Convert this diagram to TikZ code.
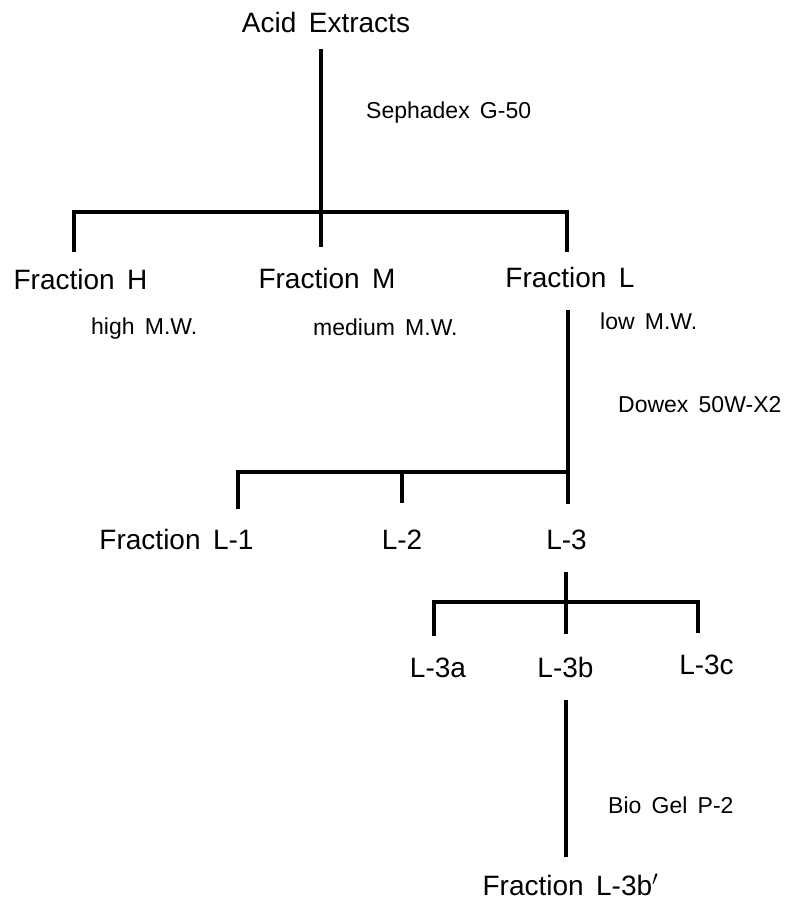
\documentclass[tikz,border=0pt]{standalone}
\usepackage{fontspec}
\setmainfont{Liberation Sans}[WordSpace=1.6]
\begin{document}
\begin{tikzpicture}[x=1pt,y=-1pt,
  big/.style={inner sep=0pt,anchor=base,font=\fontsize{28}{30}\selectfont},
  small/.style={inner sep=0pt,anchor=base west,font=\fontsize{23}{25}\selectfont},
  conn/.style={line width=3.2pt,line join=miter}]
\useasboundingbox (0,0) rectangle (795,903);
% main labels
\node[big] (acid) at (326,32) {Acid Extracts};
\node[big] (fh) at (80.5,289) {Fraction H};
\node[big] (fm) at (327,288) {Fraction M};
\node[big] (fl) at (570,287) {Fraction L};
\node[big] (l1) at (176.5,549) {Fraction L-1};
\node[big] (l2) at (402,549) {L-2};
\node[big] (l3) at (566.5,549) {L-3};
\node[big] (l3a) at (438,677) {L-3a};
\node[big] (l3b) at (565.5,677) {L-3b};
\node[big] (l3c) at (706.5,674) {L-3c};
\node[big,text depth=0pt] (l3bp) at (570.5,895) {Fraction L-3b$'$};
% annotations
\node[small] (seph) at (366,118) {Sephadex G-50};
\node[small] (high) at (91,334) {high M.W.};
\node[small] (med) at (313,335) {medium M.W.};
\node[small] (low) at (600,329) {low M.W.};
\node[small] (dowex) at (618,412) {Dowex 50W-X2};
\node[small] (bio) at (608,813) {Bio Gel P-2};
% coordinates
\coordinate (a0) at (321,49);
\coordinate (a2) at (321,247);
\coordinate (hL) at (74,252);
\coordinate (hLt) at (74,212);
\coordinate (hRt) at (567,212);
\coordinate (hR) at (567,252);
\coordinate (b0) at (568,310);
\coordinate (b1) at (568,472);
\coordinate (b2) at (568,504);
\coordinate (c1t) at (238,472);
\coordinate (c1) at (238,509);
\coordinate (c2t) at (402,472);
\coordinate (c2) at (402,503);
\coordinate (d0) at (566,572);
\coordinate (d2) at (566,634);
\coordinate (e1t) at (434,602);
\coordinate (e1) at (434,636);
\coordinate (e3t) at (698,602);
\coordinate (e3) at (698,633);
\coordinate (f0) at (566,700);
\coordinate (f1) at (566,857);
% connectors
\draw[conn] (a0) -- (a2);
\draw[conn] (hL) -- (hLt) -- (hRt) -- (hR);
\draw[conn] (b0) -- (b2);
\draw[conn] (c1) -- (c1t) -- (b1);
\draw[conn] (c2t) -- (c2);
\draw[conn] (d0) -- (d2);
\draw[conn] (e1) -- (e1t) -- (e3t) -- (e3);
\draw[conn] (f0) -- (f1);
\end{tikzpicture}
\end{document}
